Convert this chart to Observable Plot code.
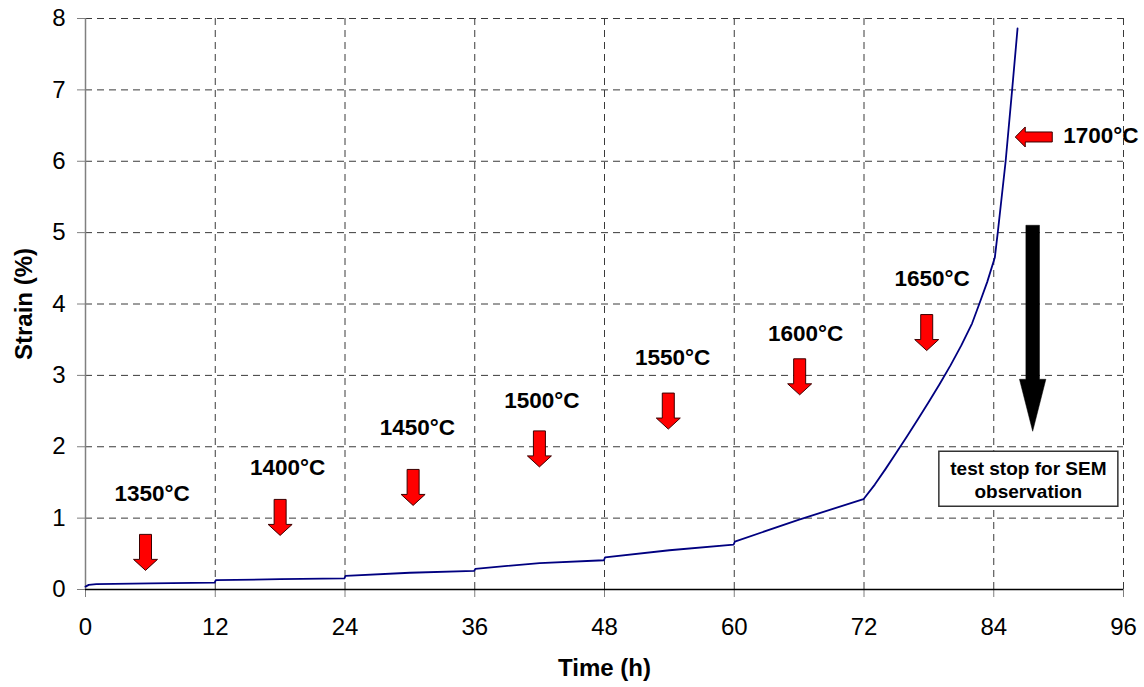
<!DOCTYPE html>
<html>
<head>
<meta charset="utf-8">
<script src="https://cdn.jsdelivr.net/npm/d3@7"></script>
<script src="https://cdn.jsdelivr.net/npm/@observablehq/plot@0.6"></script>
<style>
  html, body { margin: 0; padding: 0; background: #fff; }
  #chart svg { display: block; }
</style>
</head>
<body>
<div id="chart"></div>
<script>
// ---- Data ----
const time =   [0, 0.3, 1, 6, 11.95, 12.05, 18, 23.95, 24.05, 30, 35.95, 36.05, 42, 47.95, 48.05, 54, 59.95, 60.05, 66, 71.95, 73, 74, 75, 76, 77, 78, 79, 80, 81, 82, 82.66, 83.4, 84.1, 84.37, 85.1, 85.7, 86.2];
const strain = [0.04, 0.065, 0.075, 0.085, 0.095, 0.13, 0.145, 0.155, 0.19, 0.235, 0.26, 0.29, 0.37, 0.41, 0.45, 0.55, 0.63, 0.67, 0.98, 1.265, 1.47, 1.69, 1.92, 2.15, 2.39, 2.63, 2.88, 3.14, 3.42, 3.73, 4.0, 4.31, 4.65, 5.0, 6.0, 7.0, 7.86];

const xTicks = [0, 12, 24, 36, 48, 60, 72, 84, 96];
const yTicks = [0, 1, 2, 3, 4, 5, 6, 7, 8];

// temperature step annotations (label text, label anchor, arrow anchor in data units)
const tempLabels = ["1350°C", "1400°C", "1450°C", "1500°C", "1550°C", "1600°C", "1650°C", "1700°C"];
const labelTime   = [6.16, 18.7, 30.7, 42.2, 54.3, 66.6, 78.3, 93.9];
const labelStrain = [1.34, 1.70, 2.26, 2.65, 3.25, 3.58, 4.36, 6.35];
const arrowTime   = [5.55, 18.0, 30.3, 41.98, 53.9, 66.05, 77.8];
const arrowStrain = [0.52, 1.01, 1.43, 1.97, 2.50, 2.98, 3.60];
const leftArrowTime = [87.7];
const leftArrowStrain = [6.34];

const stopArrowTime = [87.6];
const stopArrowStrain = [3.66];
const noteText = ["test stop for SEM\nobservation"];
const noteTime = [87.2];
const noteStrain = [1.55];

// ---- Custom symbols ----
const downArrow = { draw(c) {
  c.moveTo(-6, -18); c.lineTo(6, -18); c.lineTo(6, 7); c.lineTo(12, 7);
  c.lineTo(0, 18); c.lineTo(-12, 7); c.lineTo(-6, 7); c.closePath();
}};
const leftArrow = { draw(c) {
  c.moveTo(-18.5, 0); c.lineTo(-8.5, -10); c.lineTo(-8.5, -5); c.lineTo(18.5, -5);
  c.lineTo(18.5, 5); c.lineTo(-8.5, 5); c.lineTo(-8.5, 10); c.closePath();
}};
const bigDownArrow = { draw(c) {
  c.moveTo(-6.8, -103); c.lineTo(6.8, -103); c.lineTo(6.8, 51); c.lineTo(13.2, 51);
  c.lineTo(0, 103); c.lineTo(-13.2, 51); c.lineTo(-6.8, 51); c.closePath();
}};
const noteBox = { draw(c) {
  c.moveTo(-89.5, -27.5); c.lineTo(89.5, -27.5); c.lineTo(89.5, 27.5); c.lineTo(-89.5, 27.5); c.closePath();
}};

const font = "'Liberation Sans', Arial, Helvetica, sans-serif";

const chart = Plot.plot({
  width: 1144,
  height: 687,
  marginLeft: 85,
  marginRight: 21,
  marginTop: 18,
  marginBottom: 98,
  style: { fontFamily: font, fontSize: "24px", background: "white", color: "black" },
  x: { domain: [0, 96], label: null },
  y: { domain: [0, 8], label: null },
  marks: [
    Plot.gridX(xTicks.filter(d => d > 0), { stroke: "#3a3a3a", strokeOpacity: 1, strokeWidth: 1, strokeDasharray: "7,5" }),
    Plot.gridY(yTicks.filter(d => d > 0), { stroke: "#3a3a3a", strokeOpacity: 1, strokeWidth: 1, strokeDasharray: "7,5" }),
    Plot.axisX({ ticks: xTicks, tickSize: 8, tickPadding: 20, fontSize: 24, label: null, stroke: "#808080" }),
    Plot.axisY({ ticks: yTicks, tickSize: 8, tickPadding: 12, fontSize: 24, label: null, stroke: "#808080" }),
    Plot.ruleX([0], { stroke: "#808080", strokeWidth: 1.5 }),
    Plot.ruleY([0], { stroke: "black", strokeWidth: 1.5 }),
    Plot.line(time, { x: time, y: strain, stroke: "#000080", strokeWidth: 1.8 }),
    Plot.dot(arrowTime, { x: arrowTime, y: arrowStrain, symbol: downArrow, fill: "#ff0000", stroke: "#3a0000", strokeWidth: 1 }),
    Plot.dot(leftArrowTime, { x: leftArrowTime, y: leftArrowStrain, symbol: leftArrow, fill: "#ff0000", stroke: "#3a0000", strokeWidth: 1 }),
    Plot.dot(stopArrowTime, { x: stopArrowTime, y: stopArrowStrain, symbol: bigDownArrow, fill: "black", stroke: "black", strokeWidth: 0.5 }),
    Plot.dot(noteTime, { x: noteTime, y: noteStrain, symbol: noteBox, fill: "white", stroke: "#333", strokeWidth: 1.5 }),
    Plot.text(noteText, { x: noteTime, y: noteStrain, text: d => d, fontSize: 19, fontWeight: "bold", lineHeight: 1.26, fill: "black" }),
    Plot.text(tempLabels, { x: labelTime, y: labelStrain, text: d => d, fontSize: 22.5, fontWeight: "bold", fill: "black" }),
    Plot.text(["Time (h)"], { frameAnchor: "bottom", dy: 79, textAnchor: "middle", lineAnchor: "middle", text: d => d, fontSize: 24, fontWeight: "bold", fill: "black" }),
    Plot.text(["Strain (%)"], { frameAnchor: "left", dx: -61, rotate: -90, textAnchor: "middle", lineAnchor: "middle", text: d => d, fontSize: 24, fontWeight: "bold", fill: "black" })
  ]
});
document.getElementById("chart").appendChild(chart);
</script>
</body>
</html>
